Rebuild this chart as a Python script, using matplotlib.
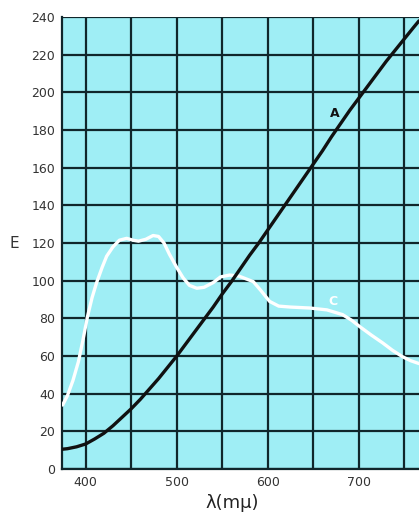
import matplotlib
matplotlib.use("Agg")
import matplotlib.pyplot as plt

# Curve A (black)
a_wl = [374, 380, 390, 400, 410, 420, 430, 440, 450, 460, 470, 480, 490, 500, 510, 520, 530, 540,
        550, 560, 570, 580, 590, 600, 610, 620, 630, 640, 650, 660, 670, 680, 690, 700, 710, 720,
        730, 740, 750, 760, 766]
a_E = [10.5, 10.8, 11.8, 13.3, 16, 19, 23, 27.5, 32, 37, 42.5, 48, 54, 60, 66.5, 73, 79.5, 86,
       93, 99.5, 106.5, 113.5, 120, 127, 134, 141, 148, 155, 162, 169, 176.5, 183.5, 190.5, 197, 203.5, 210,
       216.5, 222.5, 228.5, 234.5, 238]

# Curve C (white)
c_wl = [374.7, 380, 386, 392, 397, 402, 407, 412, 418, 423, 430, 437, 445, 452, 458, 466, 474, 480,
        486, 492, 500, 507, 514, 522, 530, 540, 548, 558, 568, 576, 584, 592, 602, 612, 625, 646,
        665, 682, 692, 701, 714, 726, 737, 748, 757, 766]
c_E = [34, 39, 47, 57, 68.5, 81, 91, 99, 107, 113, 118, 121.5, 122.5, 121.5, 121, 122, 124, 123.5,
       120, 114, 107, 101.5, 97.5, 96, 96.5, 99, 102, 103, 102.5, 101, 99.5, 95, 89, 86.5, 86, 85.5,
       84.5, 82, 79, 75.6, 71, 67, 63, 59.6, 57.5, 56]

y_ticks = [0, 20, 40, 60, 80, 100, 120, 140, 160, 180, 200, 220, 240]
x_ticks = [400, 500, 600, 700]
x_grid = [400, 450, 500, 550, 600, 650, 700, 750]

fig = plt.figure(figsize=(4.19, 5.19), dpi=100)
ax = fig.add_axes([0.148, 0.0963, 0.852, 0.8708])
ax.set_facecolor("#9feef5")

ax.set_xlim(374, 766)
ax.set_ylim(0, 240)

grid_c = "#10262b"
for x in x_grid:
    ax.axvline(x, color=grid_c, lw=1.6, zorder=1)
for y in y_ticks:
    ax.axhline(y, color=grid_c, lw=1.6, zorder=1)

ax.plot(c_wl, c_E, color="white", lw=2.4, zorder=3, solid_capstyle="round", solid_joinstyle="round")
ax.plot(a_wl, a_E, color="#111111", lw=2.4, zorder=4, solid_capstyle="round", solid_joinstyle="round")

ax.text(674, 189, "A", color="#111111", fontsize=9, fontweight="bold", ha="center", va="center", zorder=5)
ax.text(671, 89, "C", color="white", fontsize=9, fontweight="bold", ha="center", va="center", zorder=5)

ax.set_yticks(y_ticks)
ax.set_yticklabels([str(v) for v in y_ticks], fontsize=9, color="#333333")
ax.set_xticks(x_ticks)
ax.set_xticklabels([str(v) for v in x_ticks], fontsize=9, color="#333333")
ax.tick_params(length=0, pad=5)

for s in ["top", "right"]:
    ax.spines[s].set_visible(False)
ax.spines["left"].set_color(grid_c)
ax.spines["left"].set_linewidth(1.6)
ax.spines["bottom"].set_color(grid_c)
ax.spines["bottom"].set_linewidth(1.6)

fig.text(14 / 419, 1 - 243 / 519, "E", fontsize=11, color="#333333", ha="center", va="center")
fig.text(232 / 419, 1 - 503 / 519, "λ(mμ)", fontsize=13, color="#222222", ha="center", va="center")

fig.savefig("out.png", dpi=100)
